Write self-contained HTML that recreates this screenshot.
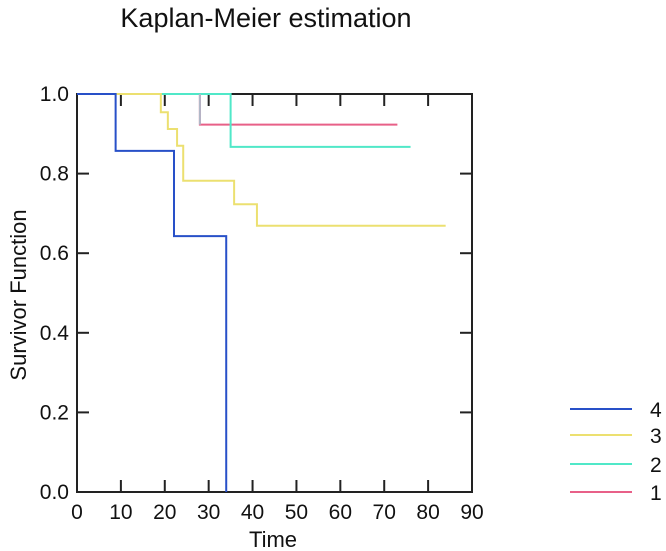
<!DOCTYPE html>
<html><head><meta charset="utf-8"><style>
body{margin:0;background:#fff;}
svg{display:block;font-family:"Liberation Sans",Arial,sans-serif;}
</style></head><body>
<svg id="chart" width="666" height="551">
<text x="266" y="27" font-size="27" text-anchor="middle" fill="#111">Kaplan-Meier estimation</text>
<text transform="translate(26,295) rotate(-90)" font-size="22" text-anchor="middle" fill="#111">Survivor Function</text>
<text x="273" y="547" font-size="22" text-anchor="middle" fill="#111">Time</text>
<g id="axes"></g>
<g id="series"></g>
<g id="legend"></g>
</svg>
<script>
const xTicks=[0,10,20,30,40,50,60,70,80,90];
const yTicks=[0,0.2,0.4,0.6,0.8,1.0];
const seriesNames=["4","3","2","1"];
const seriesColors=["#2850c8","#ece070","#50e8c8","#e86088"];
const s4Times=[0,8.8,22.1,34,34];
const s4Surv=[1,0.857,0.643,0.0,0.0];
const s3Times=[0,19.1,20.7,22.8,24.2,35.8,41,84];
const s3Surv=[1,0.954,0.912,0.87,0.782,0.723,0.669,0.669];
const s2Times=[0,35,76];
const s2Surv=[1,0.867,0.867];
const s1Times=[28,28,73];
const s1Surv=[1,0.923,0.923];
const X0=77,X1=472,Y0=492,Y1=94;
const xs=v=>X0+(v/90)*(X1-X0);
const ys=v=>Y0-v*(Y0-Y1);
const NS="http://www.w3.org/2000/svg";
function mk(tag,attrs,parent){const e=document.createElementNS(NS,tag);for(const k in attrs)e.setAttribute(k,attrs[k]);parent.appendChild(e);return e;}
const axes=document.getElementById('axes');
const frame=mk('rect',{x:X0,y:Y1,width:X1-X0,height:Y0-Y1,fill:'none',stroke:'#222','stroke-width':2},axes);


xTicks.forEach(t=>{
  const x=xs(t);
  if(t>0&&t<90){
    const a=mk('line',{x1:x,x2:x,y1:Y0,y2:Y0-12,stroke:'#222','stroke-width':2},axes);
    
    
    const b=mk('line',{x1:x,x2:x,y1:Y1,y2:Y1+12,stroke:'#222','stroke-width':2},axes);
    
    
  }
  const tx=mk('text',{x:x,y:519,'font-size':21,'text-anchor':'middle',fill:'#111'},axes);
  tx.textContent=String(t);
  
  
});
yTicks.forEach(t=>{
  const y=ys(t);
  if(t>0&&t<1){
    const a=mk('line',{x1:X0,x2:X0+12,y1:y,y2:y,stroke:'#222','stroke-width':2},axes);
    
    
    const b=mk('line',{x1:X1,x2:X1-12,y1:y,y2:y,stroke:'#222','stroke-width':2},axes);
    
    
  }
  const tx=mk('text',{x:69,y:y+7,'font-size':21,'text-anchor':'end',fill:'#111'},axes);
  tx.textContent=t.toFixed(1);
  
  
});
const series=document.getElementById('series');
const data=[[s1Times,s1Surv],[s2Times,s2Surv],[s3Times,s3Surv],[s4Times,s4Surv]];
const order=[3,2,1,0];
data.forEach((d,i)=>{
  const [T,S]=d;const idx=order[i];
  let p='M'+xs(T[0])+','+ys(S[0]);
  for(let k=1;k<T.length;k++){p+=' H'+xs(T[k])+' V'+ys(S[k]);}
  const path=mk('path',{d:p,fill:'none',stroke:seriesColors[idx],'stroke-width':2},series);
  
  
});
const drop=mk('line',{x1:xs(s1Times[0]),x2:xs(s1Times[1]),y1:ys(s1Surv[0]),y2:ys(s1Surv[1]),stroke:'#b0b8c8','stroke-width':2},series);


const legend=document.getElementById('legend');
const ly=[409,435,464,492];
seriesNames.forEach((n,i)=>{
  const l=mk('line',{x1:570,x2:632,y1:ly[i],y2:ly[i],stroke:seriesColors[i],'stroke-width':2},legend);
  
  
  const t=mk('text',{x:650,y:ly[i]+8,'font-size':21,fill:'#111'},legend);
  t.textContent=n;
  
  
});
</script>
</body></html>
